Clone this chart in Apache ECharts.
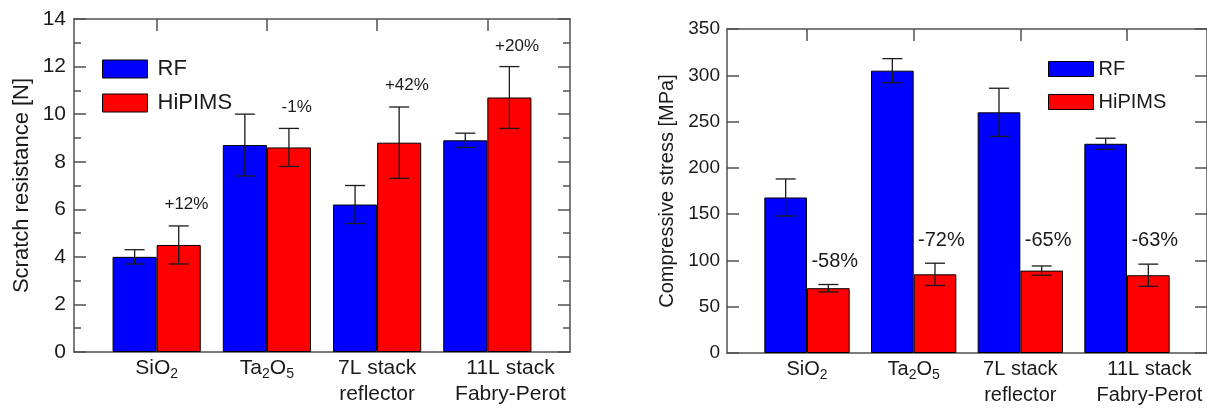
<!DOCTYPE html>
<html><head><meta charset="utf-8">
<script src="https://cdn.jsdelivr.net/npm/echarts@6/dist/echarts.min.js"></script>
<style>html,body{margin:0;padding:0;background:#fff}#c{width:1207px;height:408px}</style>
</head><body><div id="c"></div>
<script>
// ---- data ----
const categories = ['SiO{s|2}', 'Ta{s|2}O{s|5}', '7L stack\nreflector', '11L stack\nFabry-Perot'];
const catPos = [1, 2, 3, 4];
const seriesNames = ['RF', 'HiPIMS'];
// Scratch resistance [N]
const scratchRF = [4.0, 8.7, 6.2, 8.9];
const scratchRFErr = [0.3, 1.3, 0.8, 0.3];
const scratchHi = [4.5, 8.6, 8.8, 10.7];
const scratchHiErr = [0.8, 0.8, 1.5, 1.3];
const scratchNotes = ['+12%', '-1%', '+42%', '+20%'];
const scratchNoteY = [6.2, 10.3, 11.2, 12.85];
// Compressive stress [MPa]
const stressRF = [168, 305, 260, 226];
const stressRFErr = [20, 13, 26, 6];
const stressHi = [70, 85, 89, 84];
const stressHiErr = [4, 12, 5, 12];
const stressNotes = ['-58%', '-72%', '-65%', '-63%'];
const stressNoteY = [99, 122, 122, 122];

// ---- chart ----
const FONT = "'Liberation Sans', Arial, Helvetica, sans-serif";
const TXT = '#1a1a1a';
const LINE = '#505050';
const BLUE = '#0000ff', RED = '#ff0000';
// the last category label sits a little right of its bar pair in the original
const labelShift = [0, 0, 0, 0.21];

function errRender(sign) {
  return function (params, api) {
    const x = api.value(0), lo = api.value(1), hi = api.value(2);
    const band = api.size([1, 0])[0];
    const p1 = api.coord([x, hi]), p2 = api.coord([x, lo]);
    const cx = p1[0] + sign * band * 0.2;
    const cap = 10;
    const st = { stroke: '#1a1a1a', lineWidth: 1.3 };
    return { type: 'group', children: [
      { type: 'line', shape: { x1: cx, y1: p1[1], x2: cx, y2: p2[1] }, style: st },
      { type: 'line', shape: { x1: cx - cap, y1: p1[1], x2: cx + cap, y2: p1[1] }, style: st },
      { type: 'line', shape: { x1: cx - cap, y1: p2[1], x2: cx + cap, y2: p2[1] }, style: st }
    ] };
  };
}
function noteRender(notes, fs, off) {
  return function (params, api) {
    const band = api.size([1, 0])[0];
    const p = api.coord([api.value(0), api.value(1)]);
    return { type: 'text', x: p[0] + band * off, y: p[1],
      style: { text: notes[params.dataIndex], fill: TXT, fontSize: fs, fontFamily: FONT, align: 'center', verticalAlign: 'middle' } };
  };
}

function xAxes(gridIndex, fs) {
  return [{
    gridIndex, type: 'value', min: 0.25, max: 4.75, position: 'bottom',
    axisLine: { show: true, onZero: false, lineStyle: { color: LINE, width: 1.5 } },
    axisTick: { show: false },
    splitLine: { show: false },
    axisLabel: {
      customValues: catPos.map((v, i) => v + labelShift[i]),
      formatter: v => categories[Math.round(v) - 1],
      hideOverlap: false,
      fontSize: fs, lineHeight: 26, fontFamily: FONT, color: TXT, margin: 3,
      rich: {
        s: { fontSize: Math.round(fs * 0.68), lineHeight: 14, verticalAlign: 'bottom', fontFamily: FONT, color: TXT }
      }
    }
  }, {
    gridIndex, type: 'value', min: 0.25, max: 4.75, position: 'top',
    axisLine: { show: true, onZero: false, lineStyle: { color: LINE, width: 1.5 } },
    axisTick: { show: true, inside: true, length: 12, customValues: catPos, lineStyle: { color: LINE, width: 1.5 } },
    axisLabel: { show: false }, splitLine: { show: false }
  }];
}
function yAxes(gridIndex, max, interval, minor, name, nameGap, fs, nfs, margin) {
  const common = {
    gridIndex, type: 'value', min: 0, max, interval,
    axisLine: { show: true, lineStyle: { color: LINE, width: 1.5 } },
    axisTick: { show: true, inside: true, length: 12, lineStyle: { color: LINE, width: 1.5 } },
    minorTick: { show: minor, splitNumber: 2, length: 7, lineStyle: { color: LINE, width: 1.5 } },
    splitLine: { show: false }
  };
  return [Object.assign({}, common, {
    position: 'left', name, nameLocation: 'middle', nameGap,
    nameTextStyle: { fontSize: nfs, fontFamily: FONT, color: TXT },
    axisLabel: { fontSize: fs, fontFamily: FONT, color: TXT, margin }
  }), Object.assign({}, common, { position: 'right', axisLabel: { show: false } })];
}

const barStyle = c => ({ color: c, borderColor: '#000', borderWidth: 1 });
function barSeries(name, xi, yi, vals, color) {
  return { name, type: 'bar', xAxisIndex: xi, yAxisIndex: yi, barGap: '0%', barCategoryGap: '20%',
    itemStyle: barStyle(color), data: catPos.map((x, i) => [x, vals[i]]), z: 2 };
}
function errSeries(xi, yi, vals, errs, sign) {
  return { type: 'custom', xAxisIndex: xi, yAxisIndex: yi, renderItem: errRender(sign), z: 4, silent: true,
    data: catPos.map((x, i) => [x, vals[i] - errs[i], vals[i] + errs[i]]) };
}
function noteSeries(xi, yi, notes, ys, fs, off) {
  return { type: 'custom', xAxisIndex: xi, yAxisIndex: yi, renderItem: noteRender(notes, fs, off), z: 5, silent: true,
    data: catPos.map((x, i) => [x, ys[i]]) };
}

const chart = echarts.init(document.getElementById('c'), null, { renderer: 'canvas' });
chart.setOption({
  animation: false,
  backgroundColor: '#fff',
  textStyle: { fontFamily: FONT },
  grid: [
    { left: 74, top: 19, width: 496, height: 333 },
    { left: 727, top: 29, width: 490, height: 329 }
  ],
  xAxis: [...xAxes(0, 21), ...xAxes(1, 20)],
  yAxis: [
    ...yAxes(0, 14, 2, true, 'Scratch resistance [N]', 41, 21, 22, 8),
    ...yAxes(1, 350, 50, false, 'Compressive stress [MPa]', 50, 19, 20, 7)
  ],
  legend: [
    { left: 102, top: 58, orient: 'vertical', padding: 0, itemWidth: 45, itemHeight: 18, itemGap: 12, icon: 'rect',
      selectedMode: false, data: seriesNames,
      itemStyle: { borderColor: '#000', borderWidth: 1 },
      textStyle: { fontSize: 22, lineHeight: 18, fontFamily: FONT, color: TXT, padding: [0, 0, 0, 5] } },
    { left: 1048, top: 59, orient: 'vertical', padding: 0, itemWidth: 45, itemHeight: 15, itemGap: 13, icon: 'rect',
      selectedMode: false, data: seriesNames,
      itemStyle: { borderColor: '#000', borderWidth: 1 },
      textStyle: { fontSize: 20, lineHeight: 15, fontFamily: FONT, color: TXT, padding: [0, 0, 0, 0] } }
  ],
  series: [
    barSeries('RF', 0, 0, scratchRF, BLUE),
    barSeries('HiPIMS', 0, 0, scratchHi, RED),
    errSeries(0, 0, scratchRF, scratchRFErr, -1),
    errSeries(0, 0, scratchHi, scratchHiErr, 1),
    noteSeries(0, 0, scratchNotes, scratchNoteY, 17, 0.27),
    barSeries('RF', 2, 2, stressRF, BLUE),
    barSeries('HiPIMS', 2, 2, stressHi, RED),
    errSeries(2, 2, stressRF, stressRFErr, -1),
    errSeries(2, 2, stressHi, stressHiErr, 1),
    noteSeries(2, 2, stressNotes, stressNoteY, 20, 0.26)
  ]
});
</script>
</body></html>
